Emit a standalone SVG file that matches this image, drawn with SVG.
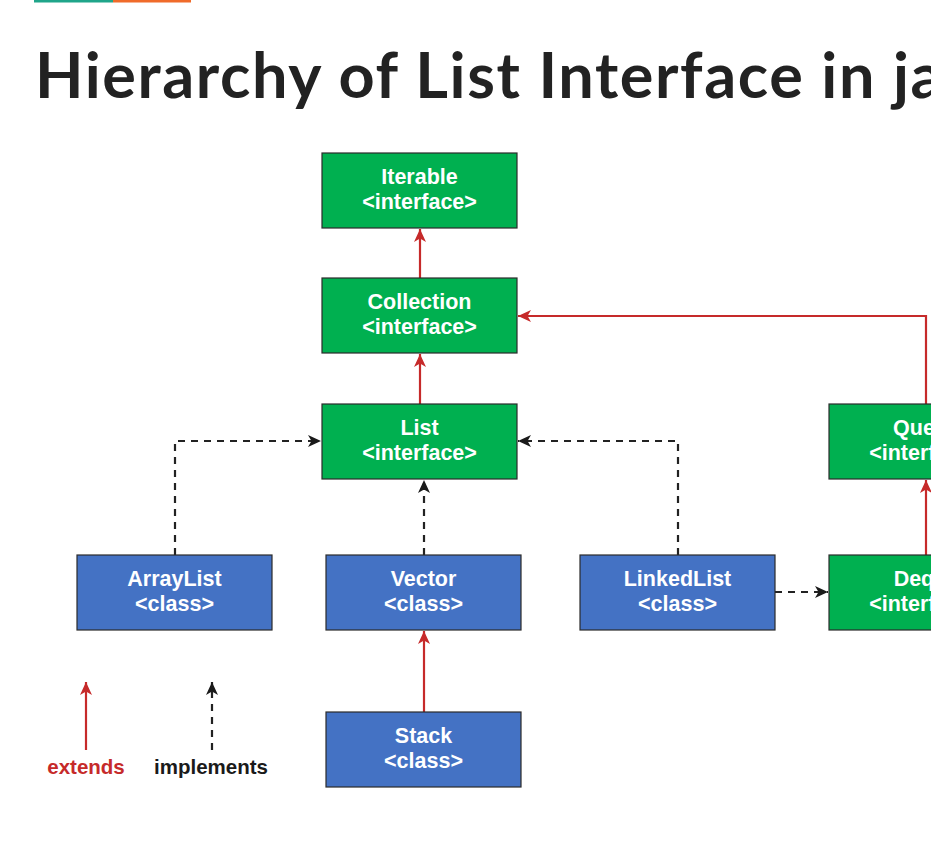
<svg xmlns="http://www.w3.org/2000/svg" width="931" height="844" viewBox="0 0 931 844">
<style>
.iface{fill:#00b050;stroke:#2b2b2b;stroke-width:1.2}
.cls{fill:#4472c4;stroke:#2b2b2b;stroke-width:1.2}
.lbl{font-family:"Liberation Sans",Arial,sans-serif;font-weight:bold;font-size:21.5px;fill:#ffffff;text-anchor:middle}
.ext{fill:none;stroke:#c62a2a;stroke-width:2.2}
.impl{fill:none;stroke:#222222;stroke-width:2.2;stroke-dasharray:7 6}
.leg{font-family:"Liberation Sans",Arial,sans-serif;font-weight:bold;font-size:20.5px;text-anchor:middle}
</style>
<defs>
<marker id="ar" markerUnits="userSpaceOnUse" markerWidth="16" markerHeight="14" refX="13" refY="6" orient="auto">
<path d="M0,0 L13,6 L0,12 L3.5,6 z" fill="#c62a2a"/>
</marker>
<marker id="ab" markerUnits="userSpaceOnUse" markerWidth="16" markerHeight="14" refX="13" refY="6" orient="auto">
<path d="M0,0 L13,6 L0,12 L3.5,6 z" fill="#1a1a1a"/>
</marker>
</defs>
<rect width="931" height="844" fill="#ffffff"/>
<rect x="34" y="0" width="79" height="2.5" fill="#1fa58a"/>
<rect x="113" y="0" width="78" height="2.5" fill="#f06b2a"/>
<text x="35" y="98" font-family="Lato,'Open Sans',sans-serif" font-weight="bold" font-size="63" letter-spacing="1.6" fill="#222222">Hierarchy of List Interface in ja</text>

<g id="connectors">
<line class="ext" x1="420" y1="278" x2="420" y2="229" marker-end="url(#ar)"/>
<line class="ext" x1="420" y1="404" x2="420" y2="354" marker-end="url(#ar)"/>
<polyline class="ext" points="926,404 926,316 518,316" marker-end="url(#ar)"/>
<line class="ext" x1="926" y1="555" x2="926" y2="480" marker-end="url(#ar)"/>
<line class="ext" x1="424" y1="712" x2="424" y2="631" marker-end="url(#ar)"/>
<polyline class="impl" points="175,555 175,441 321,441" marker-end="url(#ab)"/>
<line class="impl" x1="424" y1="555" x2="424" y2="480" marker-end="url(#ab)"/>
<polyline class="impl" points="678,555 678,441 518,441" marker-end="url(#ab)"/>
<line class="impl" x1="775" y1="592" x2="828" y2="592" marker-end="url(#ab)"/>
</g>

<g id="iterable"><rect class="iface" x="322" y="153" width="195" height="75"/><text class="lbl" x="419.5" y="183.5">Iterable</text><text class="lbl" x="419.5" y="208.5">&lt;interface&gt;</text></g>
<g id="collection"><rect class="iface" x="322" y="278" width="195" height="75"/><text class="lbl" x="419.5" y="308.5">Collection</text><text class="lbl" x="419.5" y="333.5">&lt;interface&gt;</text></g>
<g id="list"><rect class="iface" x="322" y="404" width="195" height="75"/><text class="lbl" x="419.5" y="434.5">List</text><text class="lbl" x="419.5" y="459.5">&lt;interface&gt;</text></g>
<g id="queue"><rect class="iface" x="829" y="404" width="195" height="75"/><text class="lbl" x="926.5" y="434.5">Queue</text><text class="lbl" x="926.5" y="459.5">&lt;interface&gt;</text></g>
<g id="deque"><rect class="iface" x="829" y="555" width="195" height="75"/><text class="lbl" x="926.5" y="585.5">Deque</text><text class="lbl" x="926.5" y="610.5">&lt;interface&gt;</text></g>
<g id="arraylist"><rect class="cls" x="77" y="555" width="195" height="75"/><text class="lbl" x="174.5" y="585.5">ArrayList</text><text class="lbl" x="174.5" y="610.5">&lt;class&gt;</text></g>
<g id="vector"><rect class="cls" x="326" y="555" width="195" height="75"/><text class="lbl" x="423.5" y="585.5">Vector</text><text class="lbl" x="423.5" y="610.5">&lt;class&gt;</text></g>
<g id="linkedlist"><rect class="cls" x="580" y="555" width="195" height="75"/><text class="lbl" x="677.5" y="585.5">LinkedList</text><text class="lbl" x="677.5" y="610.5">&lt;class&gt;</text></g>
<g id="stack"><rect class="cls" x="326" y="712" width="195" height="75"/><text class="lbl" x="423.5" y="742.5">Stack</text><text class="lbl" x="423.5" y="767.5">&lt;class&gt;</text></g>

<g id="legend">
<line class="ext" x1="86" y1="750" x2="86" y2="682" marker-end="url(#ar)"/>
<line class="impl" x1="212" y1="750" x2="212" y2="682" marker-end="url(#ab)"/>
<text class="leg" x="86" y="774" fill="#c62a2a">extends</text>
<text class="leg" x="211" y="774" fill="#1a1a1a">implements</text>
</g>
</svg>
